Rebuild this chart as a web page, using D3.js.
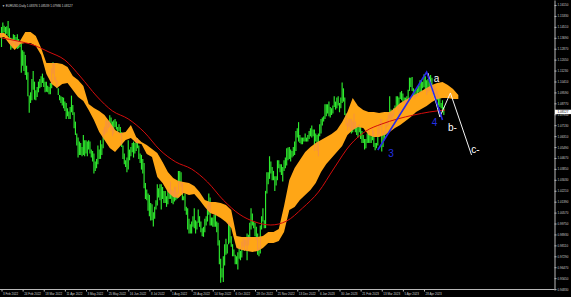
<!DOCTYPE html>
<html>
<head>
<meta charset="utf-8">
<title>EURUSD Daily</title>
<style>
*{margin:0;padding:0;}
html,body{width:571px;height:297px;background:#000;overflow:hidden;}
svg{display:block;font-family:"Liberation Sans",Arial,sans-serif;}
</style>
</head>
<body>
<script src="https://cdn.jsdelivr.net/npm/d3@7"></script>
<script>
// daily bars, one value per bar (bar 0 = 3 Feb 2022)
var highs = [
 1.1450,1.1483,1.1460,1.1450,1.1455,1.1495,1.1440,1.1370,1.1365,1.1395,1.1390,1.1375,1.1395,1.1360,1.1345,1.1325,
 1.1275,1.1265,1.1240,1.1160,1.1110,1.0935,1.0960,1.1060,1.1120,1.1040,1.0975,1.1000,1.1040,1.1060,1.1080,1.1100,
 1.1070,1.1040,1.1040,1.1010,1.1000,1.1030,1.1140,1.1185,1.1180,1.1075,1.1050,1.0990,1.0940,1.0930,1.0925,1.0920,
 1.0890,1.0880,1.0840,1.0815,1.0850,1.0935,1.0865,1.0810,1.0740,1.0650,1.0620,1.0590,1.0580,1.0550,1.0640,1.0600,
 1.0600,1.0590,1.0600,1.0590,1.0530,1.0520,1.0500,1.0440,1.0460,1.0560,1.0530,1.0600,1.0570,1.0680,1.0700,1.0750,
 1.0750,1.0740,1.0787,1.0770,1.0740,1.0750,1.0760,1.0740,1.0700,1.0720,1.0700,1.0660,1.0560,1.0500,1.0450,1.0470,
 1.0600,1.0530,1.0550,1.0580,1.0590,1.0580,1.0610,1.0615,1.0560,1.0500,1.0490,1.0460,1.0430,1.0280,1.0230,1.0200,
 1.0190,1.0130,1.0120,1.0060,1.0100,1.0150,1.0270,1.0240,1.0270,1.0270,1.0250,1.0220,1.0220,1.0180,1.0230,1.0230,
 1.0290,1.0230,1.0220,1.0250,1.0250,1.0210,1.0370,1.0370,1.0360,1.0280,1.0180,1.0200,1.0100,1.0090,1.0010,0.9970,
 0.9990,1.0030,1.0090,1.0000,0.9990,1.0080,1.0030,0.9990,0.9940,0.9950,1.0010,1.0030,1.0110,1.0200,1.0170,1.0020,
 1.0020,1.0040,1.0050,0.9990,0.9980,0.9850,0.9710,0.9640,0.9730,0.9820,0.9860,0.9820,0.9990,0.9980,0.9880,0.9820,
 0.9780,0.9740,0.9730,0.9760,0.9810,0.9770,0.9840,0.9870,0.9860,0.9850,0.9900,0.9890,0.9980,1.0090,1.0050,0.9990,
 0.9980,0.9950,0.9900,0.9790,0.9960,1.0030,1.0090,1.0000,1.0220,1.0360,1.0360,1.0480,1.0440,1.0400,1.0370,1.0330,
 1.0330,1.0450,1.0450,1.0420,1.0420,1.0400,1.0450,1.0470,1.0540,1.0545,1.0550,1.0530,1.0520,1.0550,1.0590,1.0670,
 1.0690,1.0736,1.0640,1.0620,1.0620,1.0620,1.0650,1.0620,1.0640,1.0670,1.0690,1.0710,1.0680,1.0680,1.0650,1.0640,
 1.0650,1.0720,1.0760,1.0770,1.0780,1.0870,1.0870,1.0870,1.0890,1.0850,1.0840,1.0860,1.0930,1.0890,1.0920,1.0930,
 1.0880,1.0920,1.1033,1.0990,1.0920,1.0800,1.0730,1.0760,1.0760,1.0760,1.0740,1.0800,1.0740,1.0700,1.0710,1.0720,
 1.0700,1.0670,1.0640,1.0610,1.0610,1.0650,1.0690,1.0640,1.0630,1.0690,1.0670,1.0580,1.0580,1.0700,1.0710,1.0760,
 1.0760,1.0640,1.0670,1.0720,1.0760,1.0790,1.0930,1.0830,1.0800,1.0840,1.0860,1.0930,1.0930,1.0920,1.0960,1.0970,
 1.0950,1.0920,1.0920,1.0930,1.0980,1.1070,1.1070,1.1075,1.0990,1.0980,1.0980,1.0990,1.1010,1.1050,1.1050,1.1040,
 1.1095,1.1080,1.1050,1.1060,1.1040,1.1090,1.1070,1.1010,1.1010,1.0990,1.0970,1.0940,1.0920,1.0880,1.0900,1.0850
];
var lows = [
 1.1300,1.1400,1.1410,1.1390,1.1400,1.1380,1.1340,1.1280,1.1290,1.1330,1.1315,1.1305,1.1285,1.1290,1.1300,1.1106,
 1.1160,1.1120,1.1090,1.1055,1.0930,1.0806,1.0880,1.0900,1.0980,1.0905,1.0900,1.0925,1.0960,1.0990,1.1000,1.1030,
 1.1000,1.0960,1.0965,1.0960,1.0945,1.0945,1.0990,1.1100,1.1050,1.1040,1.0990,1.0940,1.0900,1.0880,1.0860,1.0840,
 1.0820,1.0760,1.0780,1.0760,1.0760,1.0810,1.0790,1.0690,1.0640,1.0560,1.0470,1.0490,1.0490,1.0480,1.0490,1.0480,
 1.0500,1.0480,1.0530,1.0500,1.0470,1.0440,1.0350,1.0370,1.0390,1.0420,1.0460,1.0460,1.0490,1.0540,1.0640,1.0650,
 1.0660,1.0690,1.0700,1.0670,1.0630,1.0650,1.0700,1.0680,1.0650,1.0670,1.0640,1.0550,1.0460,1.0420,1.0400,1.0359,
 1.0380,1.0450,1.0480,1.0510,1.0470,1.0500,1.0520,1.0540,1.0460,1.0430,1.0380,1.0350,1.0240,1.0160,1.0150,1.0070,
 1.0030,0.9998,1.0000,0.9952,1.0010,1.0080,1.0110,1.0170,1.0150,1.0080,1.0160,1.0130,1.0130,1.0100,1.0120,1.0160,
 1.0160,1.0130,1.0120,1.0140,1.0150,1.0160,1.0200,1.0280,1.0250,1.0150,1.0150,1.0070,1.0040,0.9930,0.9900,0.9900,
 0.9900,0.9950,0.9940,0.9900,0.9930,0.9980,0.9950,0.9910,0.9880,0.9875,0.9910,0.9960,0.9990,1.0040,0.9960,0.9960,
 0.9950,0.9950,0.9950,0.9910,0.9810,0.9670,0.9530,0.9570,0.9536,0.9660,0.9740,0.9750,0.9820,0.9830,0.9800,0.9730,
 0.9730,0.9670,0.9670,0.9630,0.9710,0.9700,0.9720,0.9800,0.9770,0.9810,0.9700,0.9810,0.9850,0.9930,0.9960,0.9940,
 0.9880,0.9850,0.9740,0.9730,0.9750,0.9930,0.9990,0.9940,0.9940,1.0200,1.0270,1.0310,1.0350,1.0300,1.0300,1.0220,
 1.0260,1.0300,1.0390,1.0360,1.0340,1.0290,1.0370,1.0390,1.0410,1.0450,1.0460,1.0440,1.0470,1.0480,1.0490,1.0520,
 1.0620,1.0590,1.0580,1.0570,1.0570,1.0590,1.0590,1.0590,1.0590,1.0610,1.0630,1.0620,1.0630,1.0520,1.0590,1.0520,
 1.0480,1.0630,1.0650,1.0710,1.0740,1.0760,1.0780,1.0800,1.0780,1.0770,1.0790,1.0800,1.0850,1.0830,1.0840,1.0860,
 1.0810,1.0840,1.0880,1.0890,1.0790,1.0710,1.0670,1.0700,1.0680,1.0650,1.0660,1.0680,1.0660,1.0640,1.0620,1.0660,
 1.0610,1.0580,1.0580,1.0530,1.0540,1.0580,1.0580,1.0580,1.0580,1.0600,1.0550,1.0525,1.0540,1.0560,1.0640,1.0700,
 1.0516,1.0550,1.0600,1.0640,1.0700,1.0710,1.0760,1.0710,1.0760,1.0780,1.0830,1.0850,1.0830,1.0790,1.0910,1.0900,
 1.0880,1.0880,1.0830,1.0860,1.0900,1.0970,1.1000,1.0970,1.0920,1.0910,1.0930,1.0930,1.0960,1.0960,1.0960,1.0990,
 1.1000,1.0980,1.0940,1.0960,1.0970,1.0990,1.0960,1.0940,1.0960,1.0940,1.0900,1.0860,1.0850,1.0840,1.0810,1.0790
];

// ichimoku cloud edges, read every 4 bars starting at bar -2
var kumoStart = -2, kumoStep = 4;
var kumoTop = [
 1.1405,1.1405,1.1367,1.1352,1.1345,1.1413,1.1413,1.1383,1.1292,1.1180,1.1180,1.1180,1.1172,1.1150,1.1082,1.1052,
 1.1007,1.0872,1.0842,1.0820,1.0790,1.0737,1.0677,1.0654,1.0662,1.0714,1.0624,1.0587,1.0564,1.0534,1.0504,1.0437,
 1.0362,1.0317,1.0294,1.0287,1.0279,1.0257,1.0212,1.0152,1.0136,1.0136,1.0129,1.0114,1.0076,0.9881,0.9874,0.9874,
 0.9874,0.9874,0.9881,0.9911,0.9911,0.9934,1.0106,1.0302,1.0392,1.0452,1.0512,1.0549,1.0579,1.0602,1.0624,1.0647,
 1.0677,1.0737,1.0812,1.0917,1.0857,1.0827,1.0812,1.0812,1.0805,1.0812,1.0812,1.0842,1.0880,1.0902,1.0925,1.0947,
 1.0970,1.0992,1.1015,1.1030,1.1037,1.1015,1.0985,1.0940
];
var kumoBot = [
 1.1367,1.1375,1.1322,1.1277,1.1322,1.1330,1.1330,1.1307,1.1240,1.1097,1.1022,1.0992,1.1022,1.1030,1.0977,1.0925,
 1.0895,1.0827,1.0752,1.0662,1.0602,1.0542,1.0512,1.0557,1.0602,1.0617,1.0579,1.0572,1.0497,1.0474,1.0324,1.0279,
 1.0212,1.0174,1.0167,1.0204,1.0189,1.0197,1.0152,1.0099,1.0054,1.0039,1.0016,0.9986,0.9941,0.9791,0.9776,0.9769,
 0.9761,0.9769,0.9791,0.9829,0.9829,0.9844,0.9911,1.0076,1.0099,1.0152,1.0189,1.0227,1.0279,1.0362,1.0422,1.0467,
 1.0512,1.0557,1.0639,1.0677,1.0699,1.0692,1.0639,1.0624,1.0624,1.0639,1.0662,1.0692,1.0714,1.0744,1.0775,1.0812,
 1.0835,1.0857,1.0887,1.0910,1.0917,1.0917,1.0910,1.0910
];

// red moving average, read every 12 bars
var maStep = 12;
var maValues = [1.1368,1.1345,1.1315,1.1262,1.1202,1.1075,1.0932,1.0820,1.0760,1.0662,1.0527,1.0437,1.0384,1.0287,1.0151,
 1.0046,0.9987,0.9964,0.9994,1.0091,1.0211,1.0392,1.0564,1.0669,1.0722,1.0760,1.0789,1.0812,1.0827];

// hand drawn waves [bar, price]
var blueWave = [[285,1.0527],[322,1.1112],[334,1.0752]];
var whiteWave = [[323,1.1105],[332,1.0775],[340,1.0955],[356,1.0489]];
var waveLabels = [[295,1.0504,"3","#2430e6"],[328,1.0737,"4","#2430e6"],[329.5,1.1067,"a","#fff"],[341.5,1.0692,"b-","#fff"],[359,1.0534,"c-","#fff"]];

var dateTicks = [0,16,32,48,64,80,96,112,128,144,160,176,192,208,224,240,256,272,288,304,320];
var dateLabels = ["3 Feb 2022","24 Feb 2022","18 Mar 2022","11 Apr 2022","3 May 2022","25 May 2022","16 Jun 2022",
 "8 Jul 2022","1 Aug 2022","23 Aug 2022","14 Sep 2022","6 Oct 2022","28 Oct 2022","21 Nov 2022","13 Dec 2022",
 "6 Jan 2023","30 Jan 2023","21 Feb 2023","13 Mar 2023","5 Apr 2023","28 Apr 2023"];
var priceTicks = [1.16150,1.15330,1.14510,1.13690,1.12870,1.12050,1.11230,1.10410,1.09590,1.08770,1.07950,1.07130,
 1.06310,1.05490,1.04670,1.03850,1.03030,1.02210,1.01390,1.00570,0.99750,0.98930,0.98110,0.97290,0.96470,0.95650,0.94830];
var lastClose = 1.08127;
var header = "\u25BC EURUSD,Daily  1.08376 1.08539 1.07986 1.08127";

var width = 571, height = 297;
var plotR = 554.5, plotB = 289.5;

var svg = d3.select("body").append("svg").attr("width",width).attr("height",height);
svg.append("rect").attr("width",width).attr("height",height).attr("fill","#000");

var x = d3.scaleLinear().domain([0,320]).range([1.5,424]);
var y = d3.scaleLinear().domain([0.94761,1.16527]).range([290,0]);

var bars = highs.map((h,i)=>({i:i,h:h,l:lows[i]}));
var kumo = kumoTop.map((t,k)=>({i:kumoStart+k*kumoStep,t:t,b:kumoBot[k]}));
var ma = maValues.map((v,k)=>({i:k*maStep,v:v}));

var kumoArea = d3.area().x(d=>x(d.i)).y0(d=>y(d.b)).y1(d=>y(d.t));

var defs = svg.append("defs");
defs.append("clipPath").attr("id","plot").append("rect").attr("width",plotR).attr("height",plotB);
defs.append("clipPath").attr("id","kumo").append("path").attr("d",kumoArea(kumo));

var plot = svg.append("g").attr("clip-path","url(#plot)");

// bars
plot.append("g").selectAll("line").data(bars).join("line")
	.attr("x1",d=>x(d.i)).attr("x2",d=>x(d.i))
	.attr("y1",d=>y(d.h)).attr("y2",d=>y(d.l))
	.attr("stroke","#2eea2e").attr("stroke-width",1.15);

// cloud
plot.append("path").attr("d",kumoArea(kumo)).attr("fill","#ffa616");

// bars seen through the cloud
plot.append("g").attr("clip-path","url(#kumo)").selectAll("line").data(bars).join("line")
	.attr("x1",d=>x(d.i)).attr("x2",d=>x(d.i))
	.attr("y1",d=>y(d.h)).attr("y2",d=>y(d.l))
	.attr("stroke","#e8787a").attr("stroke-width",0.8).attr("opacity",0.55);

// moving average
plot.append("path")
	.attr("d",d3.line().x(d=>x(d.i)).y(d=>y(d.v)).curve(d3.curveMonotoneX)(ma))
	.attr("fill","none").attr("stroke","#d40c0c").attr("stroke-width",1);

var waveLine = d3.line().x(d=>x(d[0])).y(d=>y(d[1]));
plot.append("path").attr("d",waveLine(whiteWave)).attr("fill","none").attr("stroke","#f4f4f4").attr("stroke-width",1);
plot.append("path").attr("d",waveLine(blueWave)).attr("fill","none").attr("stroke","#2a2ae8").attr("stroke-width",1.6);

plot.selectAll(".wl").data(waveLabels).join("text")
	.attr("x",d=>x(d[0])).attr("y",d=>y(d[1]))
	.attr("text-anchor","middle").attr("dominant-baseline","central")
	.attr("font-size",10).attr("fill",d=>d[3]).text(d=>d[2]);

// price axis
var ay = svg.append("g").attr("transform",`translate(${plotR},0)`)
	.call(d3.axisRight(y).tickValues(priceTicks).tickFormat(d3.format(".5f")).tickSize(2).tickSizeOuter(0).tickPadding(1));
ay.select(".domain").attr("stroke","#b8b8b8");
ay.selectAll(".tick line").attr("stroke","#b8b8b8");
ay.selectAll("text").attr("fill","#d0d0d0").attr("font-size",3);

var cp = svg.append("g").attr("transform",`translate(${plotR},${y(lastClose)})`);
cp.append("rect").attr("x",0.5).attr("y",-2.2).attr("width",16.5).attr("height",4.4).attr("fill","#fff");
cp.append("text").attr("x",3).attr("dy","0.35em").attr("font-size",3).attr("fill","#000").text(d3.format(".5f")(lastClose));

// date axis
var ax = svg.append("g").attr("transform",`translate(0,${plotB})`)
	.call(d3.axisBottom(x).tickValues(dateTicks).tickFormat((d,k)=>dateLabels[k]).tickSize(2).tickPadding(1));
ax.select(".domain").remove();
ax.selectAll(".tick line").attr("stroke","#b8b8b8");
ax.selectAll("text").attr("fill","#d0d0d0").attr("font-size",3).attr("text-anchor","start").attr("dx",1);
svg.append("line").attr("x1",0).attr("x2",plotR).attr("y1",plotB).attr("y2",plotB).attr("stroke","#b8b8b8");

svg.append("text").attr("x",2).attr("y",7).attr("font-size",3).attr("fill","#d8d8d8").text(header);
</script>
</body>
</html>
